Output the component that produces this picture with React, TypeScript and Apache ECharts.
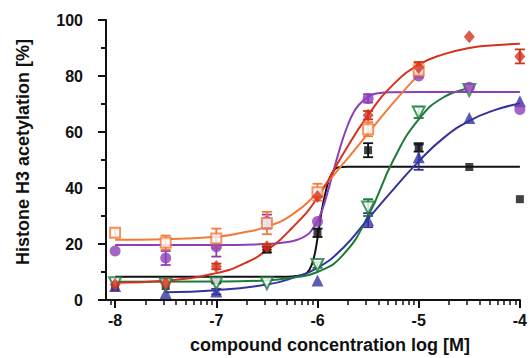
import React, { useEffect, useRef } from 'react';
import * as echarts from 'echarts';

// ---- data ----
const doses = [-8, -7.5, -7, -6.5, -6, -5.5, -5, -4.5, -4];

const redVals = [5.5, 6, 12, 19, 37, 66, 83, 94, 87];
const redErrs = [0, 0, 1, 1, 0, 1.5, 2, 0, 2.5];
const orangeVals = [24, 20.5, 22, 27.5, 38.5, 61, 82, null, null];
const orangeErrs = [1.5, 2.5, 3.5, 4, 3, 2.5, 2.5, 0, 0];
const purpleVals = [17.5, 15, 19, 28, 28, 72, 80, 76, 68];
const purpleErrs = [0, 2.5, 3.5, 2.5, 0, 1.5, 0, 0, 0];
const blackVals = [4.5, 5, 7, 18, 24, 53.5, 54.5, 47.5, 36];
const blackErrs = [0, 0, 1, 1, 1.5, 2.5, 1.5, 0, 0];
const greenVals = [6, 5.5, 6, 6, 12.5, 33, 67, 75, null];
const greenErrs = [0, 0, 0, 0, 1, 3, 2, 0, 0];
const blueVals = [5, 2.5, 3, null, 7, 28.5, 51, 65, 71];
const blueErrs = [0, 0, 1, 0, 0, 2.5, 4.5, 0, 0];

// fitted curves as [log dose, %] pairs
const redCurve = [[-8, 6.2], [-7.5, 6.9], [-7, 9.6], [-6.75, 12.6], [-6.5, 17.8], [-6.25, 25.8], [-6, 36.5], [-5.75, 52], [-5.5, 66], [-5.25, 77], [-5, 84], [-4.75, 87.8], [-4.5, 90], [-4.25, 91], [-4, 91.5]];
const orangeCurve = [[-8, 21.5], [-7.5, 21.7], [-7, 22.6], [-6.75, 24], [-6.5, 26.2], [-6.25, 30.5], [-6, 38.3], [-5.75, 48.5], [-5.5, 59.5], [-5.25, 70.5], [-5, 80.5]];
const purpleCurve = [[-8, 19.6], [-7, 19.6], [-6.5, 20], [-6.3, 20.7], [-6.2, 21.5], [-6.1, 23.3], [-6.05, 25.3], [-6, 28.2], [-5.95, 32.5], [-5.9, 38.5], [-5.85, 45], [-5.8, 51.5], [-5.75, 57.5], [-5.7, 62.5], [-5.65, 66.5], [-5.6, 69.3], [-5.5, 72.5], [-5.4, 73.8], [-5.25, 74.2], [-5, 74.3], [-4, 74.3]];
const blackCurve = [[-8, 8.3], [-6.3, 8.3], [-6.2, 8.6], [-6.12, 9.3], [-6.08, 10.8], [-6.04, 14.5], [-6, 22], [-5.96, 31.5], [-5.92, 38.5], [-5.88, 43.5], [-5.84, 46.2], [-5.8, 47.3], [-5.7, 47.6], [-4, 47.6]];
const greenCurve = [[-8, 6.5], [-7, 6.6], [-6.5, 7], [-6.25, 8], [-6, 10], [-5.75, 16], [-5.5, 30], [-5.25, 50], [-5, 64.5], [-4.75, 72.5], [-4.5, 75.5]];
const blueCurve = [[-7.5, 2.8], [-7, 3.5], [-6.5, 5.5], [-6.25, 7.8], [-6, 11.5], [-5.75, 18.5], [-5.5, 29], [-5.25, 39.5], [-5, 49.5], [-4.75, 58], [-4.5, 64], [-4.25, 67.8], [-4, 70.2]];

const majorXTicks = [-8, -7, -6, -5, -4];
const X_MIN = -8.09;
const X_MAX = -4;
const yTitle = 'Histone H3 acetylation [%]';
const xTitle = 'compound concentration log [M]';

const FONT = '"Liberation Sans", Arial, sans-serif';

function minorXTicks(): number[] {
  const out: number[] = [];
  for (let d = -9; d < -4; d++) {
    for (let k = 2; k <= 9; k++) {
      const v = d + Math.log10(k);
      if (v >= X_MIN && v <= X_MAX) out.push(v);
    }
  }
  return out;
}

type Def = {
  name: string; color: string; symbol: string; size: number | number[];
  open?: boolean; rotate?: number; vals: (number | null)[]; errs: number[]; curve: number[][];
};

const defs: Def[] = [
  { name: 'black', color: '#111111', symbol: 'rect', size: 8, vals: blackVals, errs: blackErrs, curve: blackCurve },
  { name: 'blue', color: '#3532a0', symbol: 'triangle', size: 12, vals: blueVals, errs: blueErrs, curve: blueCurve },
  { name: 'green', color: '#1d7a3a', symbol: 'triangle', size: 12, open: true, rotate: 180, vals: greenVals, errs: greenErrs, curve: greenCurve },
  { name: 'purple', color: '#8e3fb8', symbol: 'circle', size: 11, vals: purpleVals, errs: purpleErrs, curve: purpleCurve },
  { name: 'orange', color: '#f27b3a', symbol: 'rect', size: 10, open: true, vals: orangeVals, errs: orangeErrs, curve: orangeCurve },
  { name: 'red', color: '#d4321e', symbol: 'diamond', size: [11, 13], vals: redVals, errs: redErrs, curve: redCurve },
];

export default function App() {
  const ref = useRef<HTMLDivElement>(null);
  useEffect(() => {
    if (!ref.current) return;
    const chart = echarts.init(ref.current, null, { renderer: 'svg' });
    const series: any[] = [];
    defs.forEach((d, idx) => {
      series.push({
        type: 'line', name: d.name + '-fit', data: d.curve, showSymbol: false, smooth: 0.5,
        lineStyle: { color: d.color, width: 2 }, z: 2, silent: true,
      });
      const errData = doses
        .map((x, i) => (d.vals[i] != null && d.errs[i] > 0 ? [x, (d.vals[i] as number) - d.errs[i], (d.vals[i] as number) + d.errs[i]] : null))
        .filter((v) => v !== null);
      const col = d.color;
      series.push({
        type: 'custom', name: d.name + '-err', data: errData, z: 3, encode: { x: 0, y: [1, 2] },
        renderItem: (params: any, api: any) => {
          const x = api.value(0);
          const lo = api.coord([x, api.value(1)]);
          const hi = api.coord([x, api.value(2)]);
          const w = 5;
          const st = { stroke: col, lineWidth: 1.8 };
          return {
            type: 'group',
            children: [
              { type: 'line', shape: { x1: lo[0], y1: lo[1], x2: hi[0], y2: hi[1] }, style: st },
              { type: 'line', shape: { x1: lo[0] - w, y1: lo[1], x2: lo[0] + w, y2: lo[1] }, style: st },
              { type: 'line', shape: { x1: hi[0] - w, y1: hi[1], x2: hi[0] + w, y2: hi[1] }, style: st },
            ],
          };
        },
      });
      series.push({
        type: 'scatter', name: d.name,
        data: doses.map((x, i) => (d.vals[i] != null ? [x, d.vals[i]] : null)).filter((v) => v !== null),
        symbol: d.symbol, symbolSize: d.size, symbolRotate: d.rotate || 0, z: 4 + idx,
        itemStyle: d.open
          ? { color: '#ffffff', borderColor: d.color, borderWidth: 2 }
          : { color: d.color },
      });
    });

    chart.setOption({
      animation: false,
      backgroundColor: '#ffffff',
      grid: { left: 106, right: 5, top: 20, bottom: 58, containLabel: false },
      xAxis: [
        {
          type: 'value', min: X_MIN, max: X_MAX,
          axisLine: { show: true, onZero: false, lineStyle: { color: '#111', width: 2 } },
          axisTick: { show: true, customValues: majorXTicks, length: 8, lineStyle: { color: '#111', width: 2 } },
          axisLabel: {
            show: true, customValues: majorXTicks, margin: 12, color: '#111',
            fontFamily: FONT, fontSize: 16, fontWeight: 'bold', formatter: (v: number) => String(v),
          },
          splitLine: { show: false },
        },
        {
          type: 'value', min: X_MIN, max: X_MAX, position: 'bottom', offset: 0,
          axisLine: { show: false },
          axisTick: { show: true, customValues: minorXTicks(), length: 5, lineStyle: { color: '#111', width: 1.5 } },
          axisLabel: { show: false },
          splitLine: { show: false },
        },
      ],
      yAxis: {
        type: 'value', min: 0, max: 100, interval: 20,
        axisLine: { show: true, onZero: false, lineStyle: { color: '#111', width: 2 } },
        axisTick: { show: true, length: 8, lineStyle: { color: '#111', width: 2 } },
        minorTick: { show: true, splitNumber: 2, length: 5, lineStyle: { color: '#111', width: 2 } },
        axisLabel: { margin: 23, color: '#111', fontFamily: FONT, fontSize: 16, fontWeight: 'bold' },
        splitLine: { show: false },
      },
      graphic: [
        {
          type: 'text', x: 23, y: 152, rotation: Math.PI / 2,
          style: { text: yTitle, font: `bold 18px ${FONT}`, fill: '#111', textAlign: 'center', textVerticalAlign: 'middle' },
        },
        {
          type: 'text', x: 330, y: 345,
          style: { text: xTitle, font: `bold 18px ${FONT}`, fill: '#111', textAlign: 'center', textVerticalAlign: 'middle' },
        },
      ],
      series,
    });
    return () => chart.dispose();
  }, []);
  return <div ref={ref} style={{ position: 'fixed', left: 0, top: 0, width: 530, height: 358, background: '#fff' }} />;
}
